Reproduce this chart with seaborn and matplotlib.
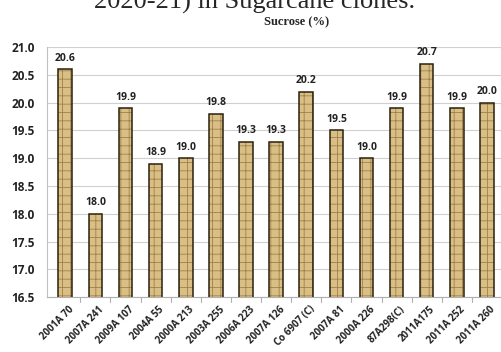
import numpy as np
import matplotlib
matplotlib.use('Agg')
from matplotlib import pyplot as plt
import pandas as pd
import seaborn as sns

clones = ["2001A 70", "2007A 241", "2009A 107", "2004A 55", "2000A 213",
          "2003A 255", "2006A 223", "2007A 126", "Co 6907 (C)", "2007A 81",
          "2000A 226", "87A298(C)", "2011A175", "2011A 252", "2011A 260"]
sucrose = [20.6, 18.0, 19.9, 18.9, 19.0, 19.8, 19.3, 19.3, 20.2, 19.5,
           19.0, 19.9, 20.7, 19.9, 20.0]
yticks = [16.5, 17.0, 17.5, 18.0, 18.5, 19.0, 19.5, 20.0, 20.5, 21.0]

df = pd.DataFrame({"clone": clones, "sucrose": sucrose})

sns.set_style("white")
plt.rcParams['font.family'] = ['Open Sans', 'DejaVu Sans']
plt.rcParams['hatch.linewidth'] = 0.6

fig = plt.figure(figsize=(5.02, 3.52), dpi=100)
ax = fig.add_axes([0.094, 0.156, 0.906, 0.71])

# textured fill (hatch drawn in a mid brown), then a dark outline on top
sns.barplot(data=df, x="clone", y="sucrose", color="#d9bf86", width=0.45,
            edgecolor="#a08048", linewidth=0, hatch="++", saturation=1, ax=ax)
sns.barplot(data=df, x="clone", y="sucrose", fill=False, color="#2a200c",
            width=0.45, linewidth=1.1, saturation=1, ax=ax)

ax.set_ylim(16.5, 21.0)
ax.set_yticks(yticks)
ax.set_yticklabels([f"{v:.1f}" for v in yticks], fontsize=8.5, fontweight='bold', color='#222222')
ax.yaxis.grid(True, color='#d0d0d0', linewidth=0.8)
ax.set_axisbelow(True)
ax.set_xlim(-0.6, 14.5)
ax.set_xlabel("")
ax.set_ylabel("")
ax.set_xticks(np.arange(len(clones)) + 0.1)
ax.set_xticklabels(clones, rotation=45, ha='right', rotation_mode='anchor',
                   fontsize=7, fontweight='bold', color='#222222')
ax.tick_params(axis='x', length=0, pad=5)
ax.tick_params(axis='y', length=3, pad=6, color='#b0b0b0', width=0.8)
# small separator ticks between categories
for b in np.arange(0.5, len(clones) - 0.5, 1.0):
    ax.plot([b, b], [16.5, 16.42], color='#b0b0b0', lw=0.8, clip_on=False)

for s in ['top', 'right']:
    ax.spines[s].set_visible(False)
ax.spines['left'].set_color('#c0c0c0')
ax.spines['bottom'].set_color('#b0b0b0')

for i, v in enumerate(sucrose):
    ax.text(i, v + 0.1, f"{v:.1f}", ha='center', va='bottom', fontsize=7.5,
            fontweight='bold', color='#222222')

fig.text(0.59, 0.937, "Sucrose (%)", ha='center', va='center', fontsize=9,
         fontweight='bold', family=['Liberation Serif', 'DejaVu Serif'])
fig.text(0.508, 0.993, "2020-21) in Sugarcane clones.", ha='center', va='center',
         fontsize=19, family=['Liberation Serif', 'DejaVu Serif'])

fig.savefig("out.png", dpi=100)
